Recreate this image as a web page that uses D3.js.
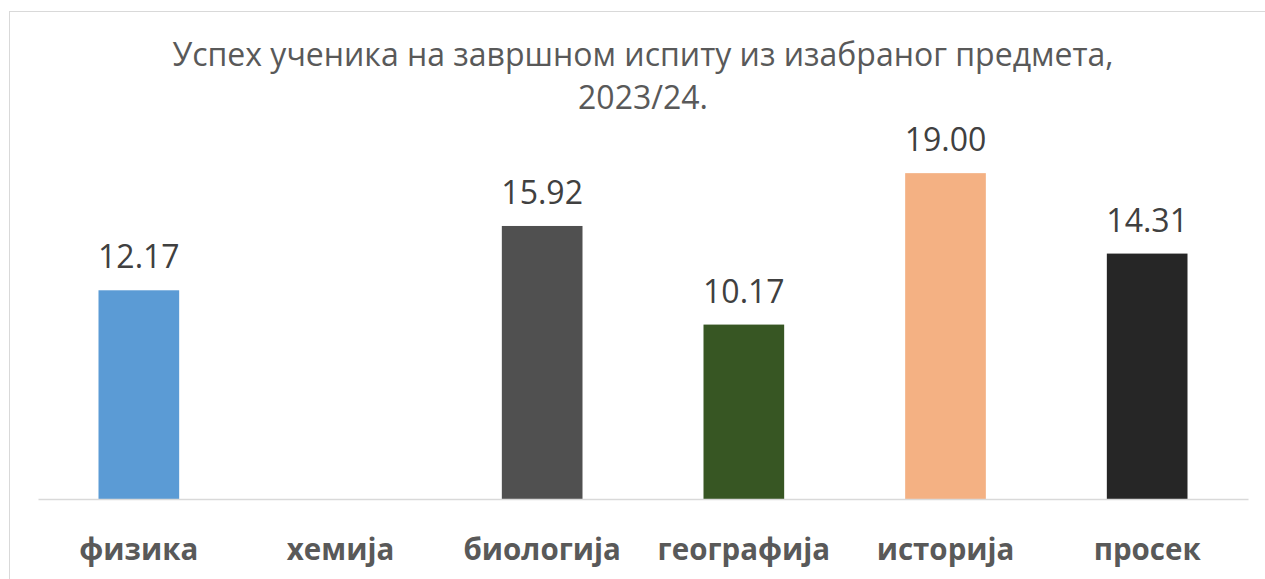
<!DOCTYPE html>
<html><head><meta charset="utf-8">
<script src="https://cdn.jsdelivr.net/npm/d3@7"></script>
<style>body{margin:0;background:#fff}svg{display:block}</style>
</head><body>
<script>
const categories = ["физика","хемија","биологија","географија","историја","просек"];
const values = [12.17, null, 15.92, 10.17, 19.00, 14.31];
const colors = ["#5B9BD5","#A5A5A5","#505050","#375623","#F4B183","#262626"];
const titleLines = ["Успех ученика на завршном испиту из изабраног предмета,","2023/24."];

const W=1265,H=579;
const svg=d3.select("body").append("svg").attr("width",W).attr("height",H);
svg.append("rect").attr("x",9.5).attr("y",11.5).attr("width",1270).attr("height",600)
  .attr("fill","#fff").attr("stroke","#d9d9d9");
const font="'Open Sans', sans-serif";
const x=d3.scaleBand().domain(categories).range([38,1248]).paddingInner(0.6).paddingOuter(0.3);
const y=d3.scaleLinear().domain([0,20]).range([499,156]);

svg.selectAll("text.t").data(titleLines).join("text").attr("class","t")
  .attr("x",643).attr("y",(d,i)=>66+i*43).attr("text-anchor","middle")
  .attr("font-family",font).attr("font-size",32).attr("fill","#595959").text(d=>d);

const data=categories.map((c,i)=>({c,v:values[i],col:colors[i]}));
svg.selectAll("rect.b").data(data.filter(d=>d.v!=null)).join("rect").attr("class","b")
  .attr("x",d=>x(d.c)).attr("width",x.bandwidth()).attr("y",d=>y(d.v)).attr("height",d=>y(0)-y(d.v))
  .attr("fill",d=>d.col);
svg.selectAll("text.v").data(data.filter(d=>d.v!=null)).join("text").attr("class","v")
  .attr("x",d=>x(d.c)+x.bandwidth()/2).attr("y",d=>y(d.v)-22).attr("text-anchor","middle")
  .attr("font-family",font).attr("font-size",32).attr("fill","#404040").text(d=>d.v.toFixed(2));

const ax=svg.append("g").attr("transform","translate(0,"+y(0)+")").call(d3.axisBottom(x).tickSize(0));
ax.select(".domain").attr("stroke","#d9d9d9").attr("stroke-width",1.5);
ax.selectAll("text").attr("font-family",font).attr("font-size",29.5).attr("font-weight","bold").attr("fill","#595959").attr("y",61).attr("dy",0);
</script>
</body></html>
